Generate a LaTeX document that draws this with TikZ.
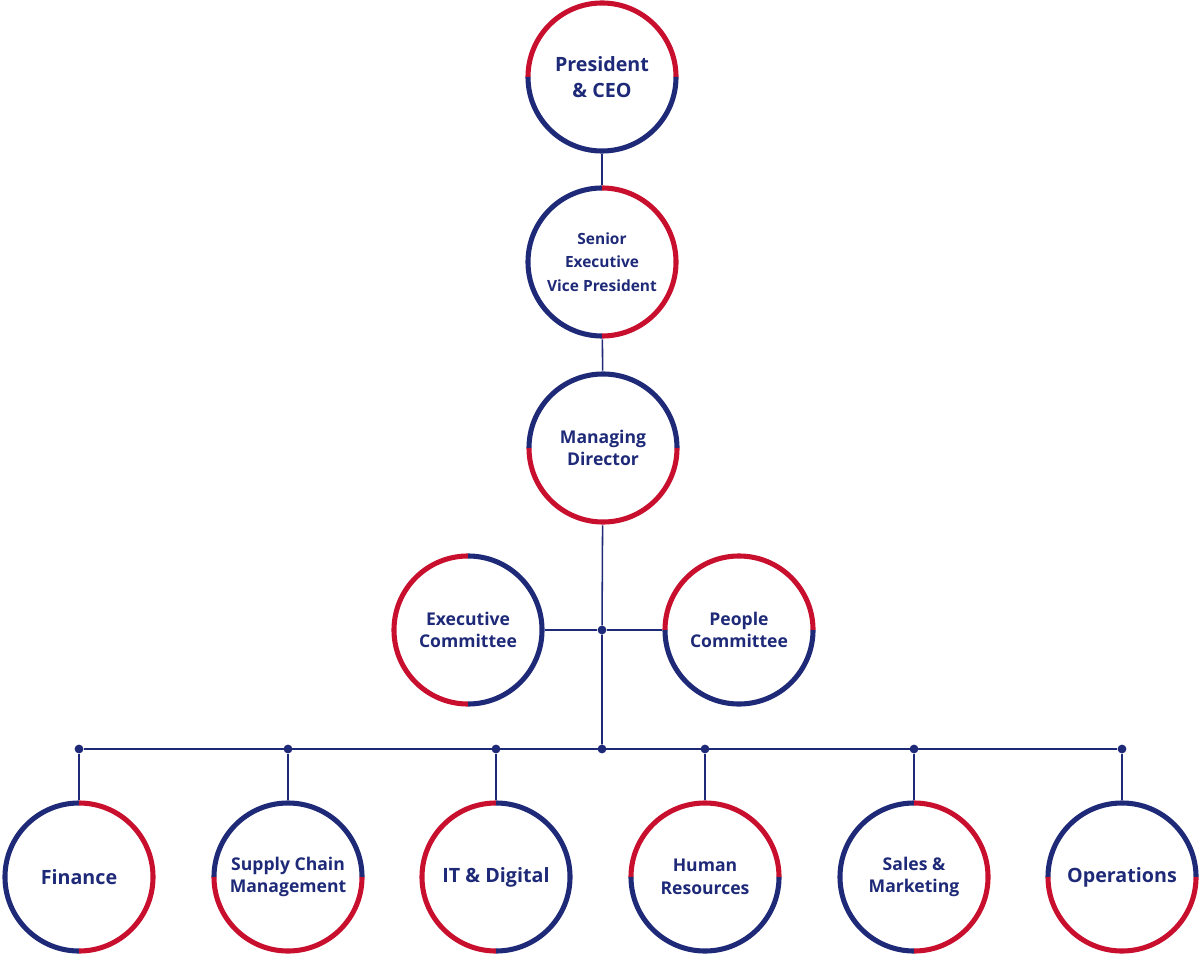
\documentclass[tikz,border=0pt]{standalone}
\usepackage{fontspec}
\setmainfont{Open Sans}
\usetikzlibrary{positioning,calc}
\definecolor{navy}{RGB}{30, 42, 120}
\definecolor{brandred}{RGB}{200, 16, 46}

% ring made of two coloured halves: node, start angle, first half colour, second half colour
\newcommand{\ringhalves}[4]{%
  \draw[#3, ring] (#1.center) ++(#2:1.85cm) arc (#2:#2+180:1.85cm);
  \draw[#4, ring] (#1.center) ++(#2+180:1.85cm) arc (#2+180:#2+360:1.85cm);
}

\begin{document}
\begin{tikzpicture}[
    x=0.025cm, y=-0.025cm,
    font=\bfseries,
    ring/.style={line width=3.6pt},
    unit/.style={circle, inner sep=0pt, minimum size=3.85cm, align=center,
        text=navy, font=\bfseries\fontsize{12.5}{16}\selectfont},
    link/.style={navy, line width=1.1pt},
    dot/.style={circle, fill=navy, inner sep=0pt, minimum size=0.22cm},
]
\useasboundingbox (0,0) rectangle (1201,957);

% ===== top chain =====
\node[unit, font=\bfseries\fontsize{14}{18}\selectfont] (ceo) at (602,77) {President\\\& CEO};
\node[unit, font=\bfseries\fontsize{11}{16.5}\selectfont] (sevp) at (602,262) {Senior\\Executive\\Vice President};
\node[unit] (md) at (603,448) {Managing\\Director};

% ===== committees =====
\node[unit] (exec) at (468,630) {Executive\\Committee};
\node[unit] (people) at (739,630) {People\\Committee};

% ===== departments =====
\node[unit, font=\bfseries\fontsize{14}{18}\selectfont] (fin) at (79,877) {Finance};
\node[unit] (scm) at (288,877) {Supply Chain\\Management};
\node[unit, font=\bfseries\fontsize{14}{18}\selectfont] (itd) at (496,877) {IT \& Digital};
\node[unit] (hr) at (705,877) {Human\\Resources};
\node[unit] (sales) at (914,877) {Sales \&\\Marketing};
\node[unit, font=\bfseries\fontsize{14}{18}\selectfont] (ops) at (1122,877) {Operations};

% rings
\ringhalves{ceo}{0}{brandred}{navy}
\ringhalves{sevp}{90}{navy}{brandred}
\ringhalves{md}{0}{navy}{brandred}
\ringhalves{exec}{90}{brandred}{navy}
\ringhalves{people}{0}{brandred}{navy}
\ringhalves{fin}{90}{navy}{brandred}
\ringhalves{scm}{0}{navy}{brandred}
\ringhalves{itd}{90}{brandred}{navy}
\ringhalves{hr}{0}{brandred}{navy}
\ringhalves{sales}{90}{navy}{brandred}
\ringhalves{ops}{0}{navy}{brandred}

% ===== connectors =====
\node[dot] (jcom) at (602,630) {};
\node[dot] (jbus) at (602,749) {};
\draw[link] (ceo) -- (sevp);
\draw[link] (sevp) -- (md);
\draw[link] (md) -- (jcom) -- (jbus);
\draw[link] (exec) -- (jcom) -- (people);

\foreach \d in {fin,scm,itd,hr,sales,ops} {
    \node[dot] (j\d) at (\d |- jbus) {};
    \draw[link] (j\d) -- (\d);
}
\draw[link] (jfin) -- (jops);

\end{tikzpicture}
\end{document}
